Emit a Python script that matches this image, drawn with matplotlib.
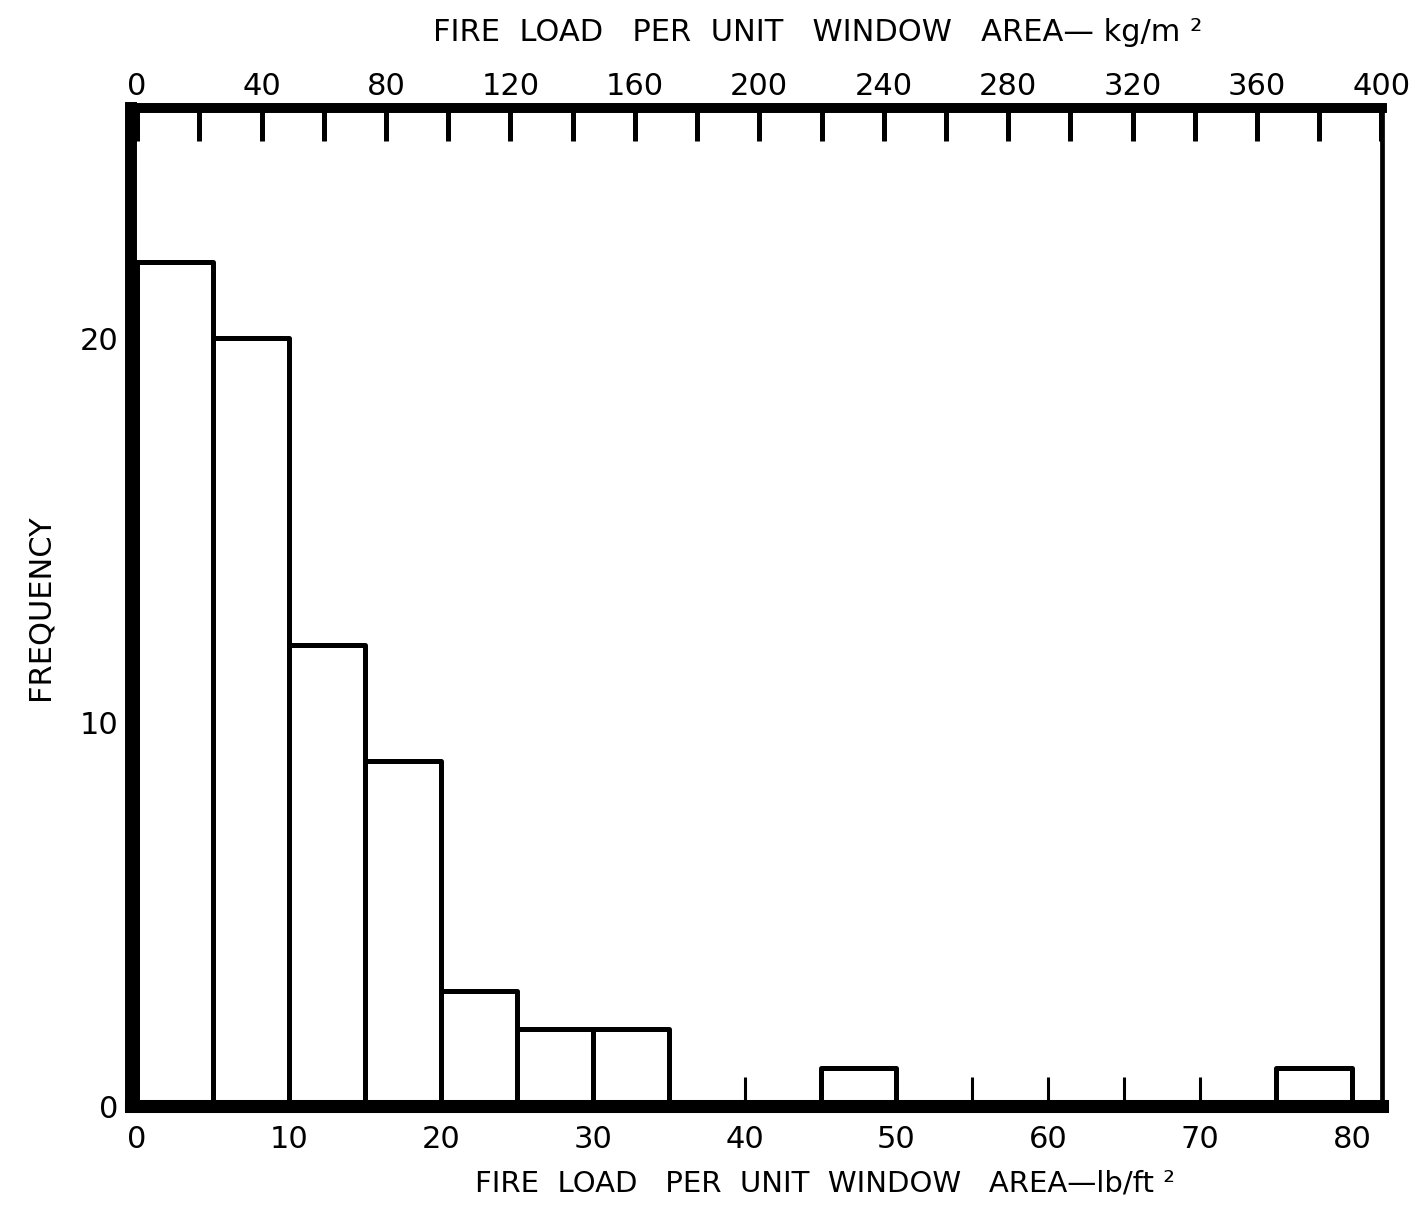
import matplotlib
matplotlib.use("Agg")
import matplotlib.pyplot as plt
from matplotlib.ticker import MultipleLocator, FixedLocator

# Histogram of fire load per unit window area (lb/ft^2), 5 lb/ft^2 bins
bin_left = [0, 5, 10, 15, 20, 25, 30, 35, 40, 45, 50, 55, 60, 65, 70, 75]
frequency = [22, 20, 12, 9, 3, 2, 2, 0, 0, 1, 0, 0, 0, 0, 0, 1]
bin_width = 5

bottom_ticks = [0, 10, 20, 30, 40, 50, 60, 70, 80]
top_ticks = [0, 40, 80, 120, 160, 200, 240, 280, 320, 360, 400]
left_ticks = [0, 10, 20]

LB_FT2_TO_KG_M2 = 4.882

plt.rcParams['font.family'] = ['DejaVu Sans']

fig = plt.figure(figsize=(14.27, 12.13), dpi=100)
ax = fig.add_axes([0.0918, 0.0882, 0.8767, 0.8228])

# only draw the occupied bins
xs = [x for x, f in zip(bin_left, frequency) if f > 0]
hs = [f for f in frequency if f > 0]
ax.bar(xs, hs, width=bin_width, align='edge', facecolor='white',
       edgecolor='black', linewidth=3.6, joinstyle='round', zorder=2)

ax.set_xlim(-0.4, 81.97)
ax.set_ylim(0, 26)

# spines
for side, lw in (('left', 8.6), ('bottom', 9.4), ('top', 7.0), ('right', 3.4)):
    ax.spines[side].set_linewidth(lw)
    ax.spines[side].set_color('black')
    ax.spines[side].set_zorder(3)

# bottom axis (lb/ft^2)
ax.xaxis.set_major_locator(FixedLocator(bottom_ticks))
ax.xaxis.set_minor_locator(MultipleLocator(5))
ax.tick_params(axis='x', which='both', direction='in', length=21, width=2.2,
               labelsize=22, pad=14, top=False)
ax.set_xlabel('FIRE  LOAD   PER  UNIT  WINDOW   AREA\u2014lb/ft \u00b2',
              fontsize=21, labelpad=11, x=0.555)

# left axis
ax.yaxis.set_major_locator(FixedLocator(left_ticks))
ax.tick_params(axis='y', which='both', direction='in', length=25, width=2.2,
               labelsize=22, pad=9, right=False)
ax.set_ylabel('FREQUENCY', fontsize=22, labelpad=18)

# top axis (kg/m^2)
sec = ax.secondary_xaxis('top', functions=(lambda v: v * LB_FT2_TO_KG_M2,
                                           lambda v: v / LB_FT2_TO_KG_M2))
sec.xaxis.set_major_locator(FixedLocator(top_ticks))
sec.xaxis.set_minor_locator(MultipleLocator(20))
sec.tick_params(axis='x', which='both', direction='in', length=24, width=3.6,
                labelsize=22, pad=5)
sec.spines['top'].set_linewidth(7.0)
sec.set_xlabel('FIRE  LOAD   PER  UNIT   WINDOW   AREA\u2014 kg/m \u00b2',
               fontsize=22, labelpad=22, x=0.549)

fig.savefig('out.png', dpi=100, facecolor='white')
